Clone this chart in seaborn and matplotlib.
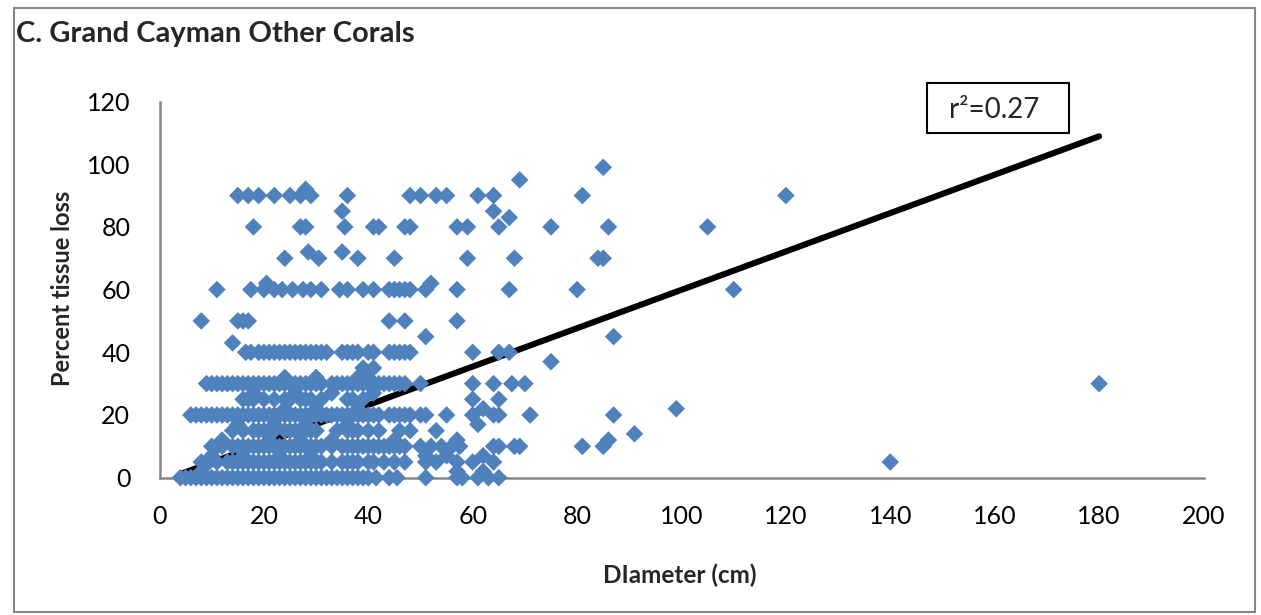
import numpy as np
import pandas as pd
import matplotlib
matplotlib.use("Agg")
import matplotlib.pyplot as plt
from matplotlib.patches import Rectangle
import seaborn as sns

# ---------------- data (diameter in cm for each percent-tissue-loss level) ----------------
loss_levels = [0, 2, 5, 7, 10, 12, 14, 15, 17, 20, 22, 25, 27, 30, 32, 35, 37, 40, 43, 45,
               50, 60, 62, 70, 72, 80, 83, 85, 90, 92, 95, 99]

diam_at_0 = [4, 5, 6, 7, 8, 9, 10, 11, 12, 13, 14, 15, 16, 17, 18, 19, 20, 21, 22, 23, 24, 25,
             26, 27, 28, 29, 30, 31, 32, 33, 34, 35, 36, 37, 38, 39, 40, 41.5, 44, 45.5, 51, 57,
             58, 61, 63, 65]
diam_at_2 = [8, 57, 62]
diam_at_5 = [8, 9.5, 11, 13, 14, 15, 16, 17, 18, 19, 20, 21, 22, 23, 24, 25, 26, 27, 28, 29,
             30, 31, 33, 35, 36, 37, 38, 40, 41, 43, 45, 47, 51, 53, 57, 60, 64, 140]
diam_at_7 = [10, 16, 23, 29, 51, 55, 62]
diam_at_10 = [10, 11, 12, 14, 15, 16, 17, 18, 19, 20, 21, 22, 23, 24, 25, 26, 27, 28, 29, 30,
              31, 33, 35, 36, 37, 38, 39, 40, 41, 42, 43, 44, 45, 46, 47, 50, 52, 54, 56, 57.5,
              64, 65, 68, 69, 81, 85]
diam_at_12 = [12, 21, 27, 33, 45, 57, 86]
diam_at_14 = [91]
diam_at_15 = [14, 16, 18, 19, 20, 22, 24, 25, 26, 28, 29, 30, 34, 36, 37, 38, 40, 42, 46, 48, 53]
diam_at_17 = [15, 22, 28, 36, 61]
diam_at_20 = [6, 7, 8, 9, 10, 11, 12, 13, 14, 15, 16, 17, 18, 19, 20, 21, 22, 23, 24, 25, 26,
              27, 28, 29, 30, 31, 32, 33, 34, 35, 36, 37, 38, 39, 40, 41, 42, 44, 45, 46, 47,
              48, 50, 51, 55, 60, 64, 65, 71, 87]
diam_at_22 = [24, 30, 38, 62, 99]
diam_at_25 = [16, 17, 18, 20, 22, 24, 25, 27, 28, 29, 31, 36, 37, 39, 60, 65]
diam_at_27 = [18, 26, 33, 41]
diam_at_30 = [9, 10, 11, 12, 13, 14, 15, 16, 17, 18, 19, 20, 21, 22, 23, 24, 25, 26, 27, 28,
              29, 30, 31, 33, 34, 35, 36, 37, 38, 39, 40, 41, 42, 43, 44, 45, 46, 47, 50, 60,
              64, 67.5, 70, 180]
diam_at_32 = [24, 30, 38, 40]
diam_at_35 = [39, 41]
diam_at_37 = [75]
diam_at_40 = [16.5, 17.5, 19, 20, 21, 22, 23, 24, 25, 26, 27, 28, 29, 30, 31, 32, 35, 36, 37,
              38, 40, 41, 44, 45, 46, 47, 48, 60, 65, 67]
diam_at_43 = [14]
diam_at_45 = [51, 87]
diam_at_50 = [8, 15, 16, 17, 44, 47, 57]
diam_at_60 = [11, 17.5, 20, 22, 23.5, 25.5, 27.5, 29, 31, 34.5, 36, 39, 41, 44, 45, 46, 47,
              48, 51, 57, 67, 80, 110]
diam_at_62 = [20.5, 52]
diam_at_70 = [24, 30.5, 38, 45, 59, 68, 84, 85]
diam_at_72 = [28.5, 35]
diam_at_80 = [18, 27, 28, 35.5, 41, 42, 47, 48, 57, 59, 65, 75, 86, 105]
diam_at_83 = [67]
diam_at_85 = [35, 64]
diam_at_90 = [15, 17, 19, 22, 25, 27, 29, 36, 48, 50, 53, 55, 61, 64, 81, 120]
diam_at_92 = [28]
diam_at_95 = [69]
diam_at_99 = [85]

diam_lists = [diam_at_0, diam_at_2, diam_at_5, diam_at_7, diam_at_10, diam_at_12, diam_at_14,
              diam_at_15, diam_at_17, diam_at_20, diam_at_22, diam_at_25, diam_at_27,
              diam_at_30, diam_at_32, diam_at_35, diam_at_37, diam_at_40, diam_at_43,
              diam_at_45, diam_at_50, diam_at_60, diam_at_62, diam_at_70, diam_at_72,
              diam_at_80, diam_at_83, diam_at_85, diam_at_90, diam_at_92, diam_at_95,
              diam_at_99]

# linear trendline as printed on the chart (Excel trendline)
trend_slope = 0.612
trend_intercept = -1.27
r2_label = "r\u00b2=0.27"

title = "C. Grand Cayman Other Corals"
x_label = "DIameter (cm)"
y_label = "Percent tissue loss"
x_ticks = [0, 20, 40, 60, 80, 100, 120, 140, 160, 180, 200]
y_ticks = [0, 20, 40, 60, 80, 100, 120]

rows = []
for lvl, dl in zip(loss_levels, diam_lists):
    for d in dl:
        rows.append((d, lvl))
df = pd.DataFrame(rows, columns=["diameter", "loss"])

# ---------------- plot ----------------
sns.set_style("white")
plt.rcParams["font.family"] = ["Lato", "DejaVu Sans"]

W, H = 1261, 615
fig = plt.figure(figsize=(W / 100, H / 100), dpi=100)
ax = fig.add_axes([159.5 / W, 1 - 477.7 / H, (1203.5 - 159.5) / W, (477.7 - 101.5) / H])

gray = "#868686"
blue = "#4F81BD"

xs = np.array([df["diameter"].min(), df["diameter"].max()])
ax.plot(xs, trend_slope * xs + trend_intercept, color="black", lw=4.4,
        solid_capstyle="round", zorder=2)

sns.scatterplot(data=df, x="diameter", y="loss", marker="D", s=80, color=blue,
                edgecolor="none", linewidth=0, ax=ax, zorder=3, clip_on=False)

ax.set_xlim(0, 200)
ax.set_ylim(0, 120)
ax.set_xticks(x_ticks)
ax.set_yticks(y_ticks)
ax.tick_params(axis="both", direction="out", length=7, width=1.5, color=gray,
               labelsize=18, labelcolor="black")
ax.tick_params(axis="y", pad=14)
ax.tick_params(axis="x", pad=13)
for s in ["top", "right"]:
    ax.spines[s].set_visible(False)
for s in ["left", "bottom"]:
    ax.spines[s].set_color(gray)
    ax.spines[s].set_linewidth(1.8)
ax.set_xlabel("")
ax.set_ylabel("")

fig.text(680 / W, 1 - 575 / H, x_label, ha="center", va="center", fontsize=17.5,
         fontweight="bold")
fig.text(62 / W, 1 - 288 / H, y_label, ha="center", va="center", fontsize=17,
         fontweight="bold", rotation=90)
fig.text(16 / W, 1 - 34 / H, title, ha="left", va="center", fontsize=21,
         fontweight="bold")

# r^2 box
fig.add_artist(Rectangle((927 / W, 1 - 133 / H), 142 / W, 50 / H, transform=fig.transFigure,
                         facecolor="white", edgecolor="black", lw=1.5))
fig.text(994 / W, 1 - 110 / H, r2_label, ha="center", va="center", fontsize=20)

# outer chart border
fig.add_artist(Rectangle((14 / W, 1 - 612 / H), (1255 - 14) / W, (612 - 8) / H,
                         transform=fig.transFigure, facecolor="none", edgecolor=gray, lw=1.5))

fig.savefig("out.png", dpi=100)
